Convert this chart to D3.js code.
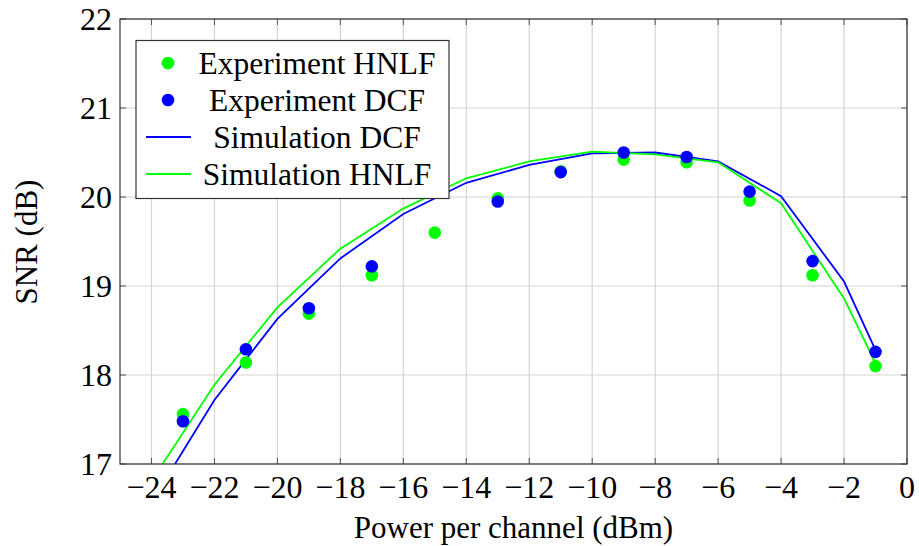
<!DOCTYPE html>
<html>
<head>
<meta charset="utf-8">
<script src="https://cdn.jsdelivr.net/npm/d3@7"></script>
<style>
  body { margin: 0; background: #fff; }
  text { font-family: "Liberation Serif", "Times New Roman", serif; fill: #000; }
</style>
</head>
<body>
<div id="chart"></div>
<script>
// experiment points
var expX = [-23, -21, -19, -17, -15, -13, -11, -9, -7, -5, -3, -1];
var expHNLF = [17.56, 18.14, 18.69, 19.12, 19.60, 19.985, 20.29, 20.42, 20.39, 19.96, 19.12, 18.10];
var expDCF = [17.48, 18.29, 18.75, 19.22, null, 19.95, 20.28, 20.50, 20.45, 20.06, 19.28, 18.26];

// simulation curves
var simX = [-24, -22, -20, -18, -16, -14, -12, -10, -8, -6, -4, -2, -1];
var simDCF = [16.57, 17.72, 18.63, 19.31, 19.81, 20.16, 20.36, 20.49, 20.50, 20.40, 20.01, 19.05, 18.28];
var simHNLF = [16.81, 17.89, 18.76, 19.42, 19.87, 20.21, 20.40, 20.51, 20.48, 20.39, 19.93, 18.86, 18.13];

var xTicks = [-24, -22, -20, -18, -16, -14, -12, -10, -8, -6, -4, -2, 0];
var yTicks = [17, 18, 19, 20, 21, 22];

var legendItems = [
  { label: "Experiment HNLF", type: "dot", color: "#00ff00" },
  { label: "Experiment DCF", type: "dot", color: "#0000ff" },
  { label: "Simulation DCF", type: "line", color: "#0000ff" },
  { label: "Simulation HNLF", type: "line", color: "#00ff00" }
];

var W = 919, H = 546;
var margin = { top: 19, right: 12, bottom: 82, left: 120 };

var svg = d3.select("#chart")
  .append("svg")
  .attr("width", W)
  .attr("height", H);

var x = d3.scaleLinear()
  .domain([-25, 0])
  .range([margin.left, W - margin.right]);

var y = d3.scaleLinear()
  .domain([17, 22])
  .range([H - margin.bottom, margin.top]);

svg.append("clipPath")
  .attr("id", "plotclip")
  .append("rect")
  .attr("x", x(-25))
  .attr("y", y(22))
  .attr("width", x(0) - x(-25))
  .attr("height", y(17) - y(22));

// grid
var grid = svg.append("g");
xTicks.forEach(function(t) {
  grid.append("line")
    .attr("x1", x(t)).attr("x2", x(t))
    .attr("y1", y(17)).attr("y2", y(22))
    .attr("stroke", "#d3d3d3").attr("stroke-width", 1.2);
});
yTicks.forEach(function(t) {
  grid.append("line")
    .attr("x1", x(-25)).attr("x2", x(0))
    .attr("y1", y(t)).attr("y2", y(t))
    .attr("stroke", "#d3d3d3").attr("stroke-width", 1.2);
});

// inner ticks on all four sides
var ticks = svg.append("g").attr("stroke", "#555").attr("stroke-width", 1);
xTicks.forEach(function(t) {
  ticks.append("line").attr("x1", x(t)).attr("x2", x(t)).attr("y1", y(17)).attr("y2", y(17) - 6);
  ticks.append("line").attr("x1", x(t)).attr("x2", x(t)).attr("y1", y(22)).attr("y2", y(22) + 6);
});
yTicks.forEach(function(t) {
  ticks.append("line").attr("x1", x(-25)).attr("x2", x(-25) + 6).attr("y1", y(t)).attr("y2", y(t));
  ticks.append("line").attr("x1", x(0)).attr("x2", x(0) - 6).attr("y1", y(t)).attr("y2", y(t));
});

// simulation lines
var plot = svg.append("g").attr("clip-path", "url(#plotclip)");

function drawLine(vals, color) {
  var pts = simX.map(function(v, i) { return [v, vals[i]]; });
  plot.append("path")
    .datum(pts)
    .attr("fill", "none")
    .attr("stroke", color)
    .attr("stroke-width", 1.8)
    .attr("stroke-linejoin", "miter")
    .attr("d", d3.line()
      .x(function(d) { return x(d[0]); })
      .y(function(d) { return y(d[1]); }));
}
drawLine(simDCF, "#0000ff");
drawLine(simHNLF, "#00ff00");

// experiment points
function drawDots(vals, color) {
  var pts = expX.map(function(v, i) { return [v, vals[i]]; })
    .filter(function(d) { return d[1] != null; });
  plot.selectAll(null)
    .data(pts)
    .enter()
    .append("circle")
    .attr("cx", function(d) { return x(d[0]); })
    .attr("cy", function(d) { return y(d[1]); })
    .attr("r", 6.3)
    .attr("fill", color);
}
drawDots(expHNLF, "#00ff00");
drawDots(expDCF, "#0000ff");

// frame
svg.append("rect")
  .attr("x", x(-25)).attr("y", y(22))
  .attr("width", x(0) - x(-25)).attr("height", y(17) - y(22))
  .attr("fill", "none").attr("stroke", "#333").attr("stroke-width", 1.2);

// tick labels
var fmt = d3.format("d");
svg.append("g").selectAll("text")
  .data(xTicks)
  .enter()
  .append("text")
  .attr("x", function(d) { return x(d); })
  .attr("y", 498)
  .attr("text-anchor", "middle")
  .style("font-size", "32px")
  .text(function(d) { return fmt(d); });

svg.append("g").selectAll("text")
  .data(yTicks)
  .enter()
  .append("text")
  .attr("x", x(-25) - 8)
  .attr("y", function(d) { return y(d) + 11; })
  .attr("text-anchor", "end")
  .style("font-size", "32px")
  .text(function(d) { return d; });

// axis labels
svg.append("text")
  .attr("x", (x(-25) + x(0)) / 2)
  .attr("y", 538)
  .attr("text-anchor", "middle")
  .style("font-size", "31px")
  .text("Power per channel (dBm)");

svg.append("text")
  .attr("transform", "translate(37," + 242 + ") rotate(-90)")
  .attr("text-anchor", "middle")
  .style("font-size", "31px")
  .text("SNR (dB)");

// legend
var lg = svg.append("g");
lg.append("rect")
  .attr("x", 136).attr("y", 40.5)
  .attr("width", 313).attr("height", 158)
  .attr("fill", "#fff").attr("stroke", "#333").attr("stroke-width", 1.2);

legendItems.forEach(function(item, i) {
  var cy = 63 + i * 37;
  if (item.type === "dot") {
    lg.append("circle").attr("cx", 168).attr("cy", cy).attr("r", 6.3).attr("fill", item.color);
  } else {
    lg.append("line").attr("x1", 146).attr("x2", 191).attr("y1", cy).attr("y2", cy)
      .attr("stroke", item.color).attr("stroke-width", 1.8);
  }
  lg.append("text")
    .attr("x", 317)
    .attr("y", cy + 10.5)
    .attr("text-anchor", "middle")
    .style("font-size", "31.5px")
    .text(item.label);
});
</script>
</body>
</html>
